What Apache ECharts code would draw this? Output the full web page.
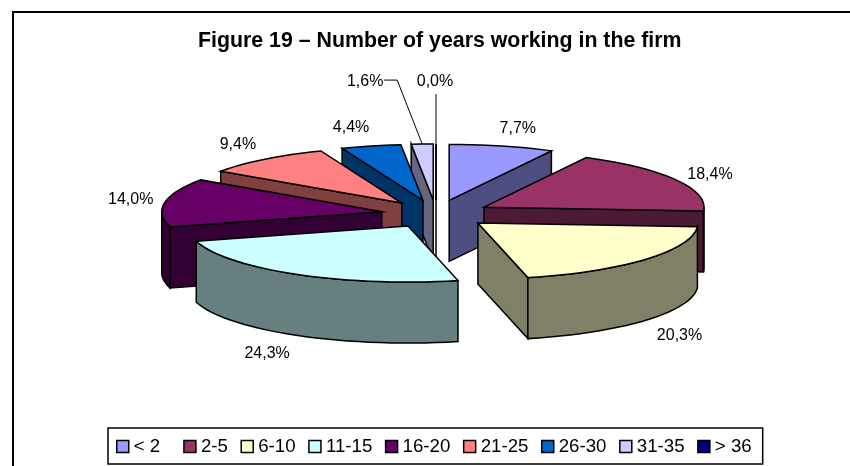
<!DOCTYPE html>
<html>
<head>
<meta charset="utf-8">
<title>Figure 19</title>
<script src="https://cdn.jsdelivr.net/npm/echarts@6/dist/echarts.min.js"></script>
<style>
  html, body { margin: 0; padding: 0; background: #fff; }
  #chart { width: 850px; height: 466px; }
</style>
</head>
<body>
<div id="chart"></div>
<script>
const categories = ['< 2', '2-5', '6-10', '11-15', '16-20', '21-25', '26-30', '31-35', '> 36'];
const shares = [7.7, 18.4, 20.3, 24.3, 14.0, 9.4, 4.4, 1.6, 0.0];
const topColors = ['#9999ff', '#993366', '#ffffcc', '#ccffff', '#660066', '#ff8080', '#0066cc', '#ccccff', '#000080'];
const sideColors = ['#4d4d80', '#4d1a33', '#808066', '#668080', '#330033', '#804040', '#003366', '#666680', '#000040'];
// label shift from the rim of the slice, in px
const labelShift = [[16, -17], [34, -5], [34, 15], [-29, 18], [-34, -3], [-27, -15], [-20, -18], [-57, -62], [-1, -62]];

const FONT = '"Liberation Sans", Arial, sans-serif';

// tilted pie geometry
const cx = 436, cy = 214, rx = 220, ry = 56, depth = 61, explode = 0.25;

const total = shares.reduce((a, b) => a + b, 0);
let acc = 0;
const slices = shares.map((v, i) => {
  const a0 = acc / total * 360;
  acc += v;
  return { i, a0, a1: acc / total * 360, mid: (a0 + acc / total * 360) / 2 };
});

const rad = d => d * Math.PI / 180;
const rim = (o, d, k = 1) => [o[0] + rx * k * Math.sin(rad(d)), o[1] - ry * k * Math.cos(rad(d))];
const down = p => [p[0], p[1] + depth];

function arcPoints(o, a0, a1) {
  const pts = [];
  const n = Math.max(1, Math.ceil((a1 - a0) / 3));
  for (let k = 0; k <= n; k++) pts.push(rim(o, a0 + (a1 - a0) * k / n));
  return pts;
}

function drawSlice(s, api) {
  const top = topColors[s.i], side = sideColors[s.i];
  const o = rim([cx, cy], s.mid, explode);
  const children = [];
  const face = (points, fill) => children.push({
    type: 'polygon',
    shape: { points },
    style: { fill, stroke: '#000', lineWidth: 1.5 }
  });

  // cut walls that look at the viewer
  const p0 = rim(o, s.a0), p1 = rim(o, s.a1);
  if (Math.sin(rad(s.a0)) < 0) face([o, p0, down(p0), down(o)], side);
  if (Math.sin(rad(s.a1)) > 0) face([o, p1, down(p1), down(o)], side);

  // outer wall, front half only
  const f0 = Math.max(s.a0, 90), f1 = Math.min(s.a1, 270);
  if (f1 > f0) {
    const arc = arcPoints(o, f0, f1);
    face(arc.concat(arc.map(down).reverse()), side);
  }

  face([o].concat(arcPoints(o, s.a0, s.a1)), top);

  // value label
  const anchor = rim(o, s.mid);
  const front = Math.cos(rad(s.mid)) < 0 ? depth : 0;
  const shift = labelShift[s.i];
  const lx = anchor[0] + shift[0], ly = anchor[1] + front + shift[1];
  children.push({
    type: 'text',
    z2: 50,
    style: {
      x: lx, y: ly,
      text: shares[s.i].toFixed(1).replace('.', ',') + '%',
      fill: '#000', font: '16px ' + FONT,
      textAlign: 'center', textVerticalAlign: 'middle'
    }
  });

  // leader lines for the two thin slices
  if (shares[s.i] < 2) {
    const pts = shares[s.i] > 0
      ? [[lx + 19, ly - 2], [lx + 32, ly - 2], anchor]
      : [[anchor[0], ly + 12], anchor];
    children.push({
      type: 'polyline',
      z2: 50,
      shape: { points: pts },
      style: { fill: 'none', stroke: '#000', lineWidth: 1 }
    });
  }
  return { type: 'group', children };
}

// back slices are drawn first
const drawRank = slices.slice().sort((a, b) => Math.cos(rad(b.mid)) - Math.cos(rad(a.mid))).map(s => s.i);

const series = slices.map(s => ({
  type: 'custom',
  name: categories[s.i],
  coordinateSystem: 'none',
  z: 2 + drawRank.indexOf(s.i),
  silent: true,
  animation: false,
  itemStyle: { color: topColors[s.i] },
  data: [[shares[s.i]]],
  renderItem: (params, api) => drawSlice(s, api)
}));

const chart = echarts.init(document.getElementById('chart'), null, { renderer: 'canvas' });
chart.setOption({
  animation: false,
  backgroundColor: '#fff',
  title: {
    text: 'Figure 19 – Number of years working in the firm',
    left: 198,
    top: 31,
    padding: 0,
    textStyle: { fontFamily: FONT, fontSize: 21.33, fontWeight: 'bold', color: '#000' }
  },
  legend: {
    data: categories,
    left: 108,
    top: 428,
    icon: 'rect',
    itemWidth: 12,
    itemHeight: 12,
    itemGap: 12.6,
    padding: [9, 11, 8, 8],
    backgroundColor: '#fff',
    borderColor: '#000',
    borderWidth: 1.5,
    itemStyle: { borderColor: '#000', borderWidth: 1.5 },
    formatter: name => (name === '< 2' ? name + '  ' : name),
    textStyle: { fontFamily: FONT, fontSize: 18.67, color: '#000' }
  },
  graphic: [{
    type: 'polyline',
    z: -1,
    shape: { points: [[13, 466], [13, 12], [850, 12]] },
    style: { fill: 'none', stroke: '#000', lineWidth: 2 }
  }],
  series
});
</script>
</body>
</html>
